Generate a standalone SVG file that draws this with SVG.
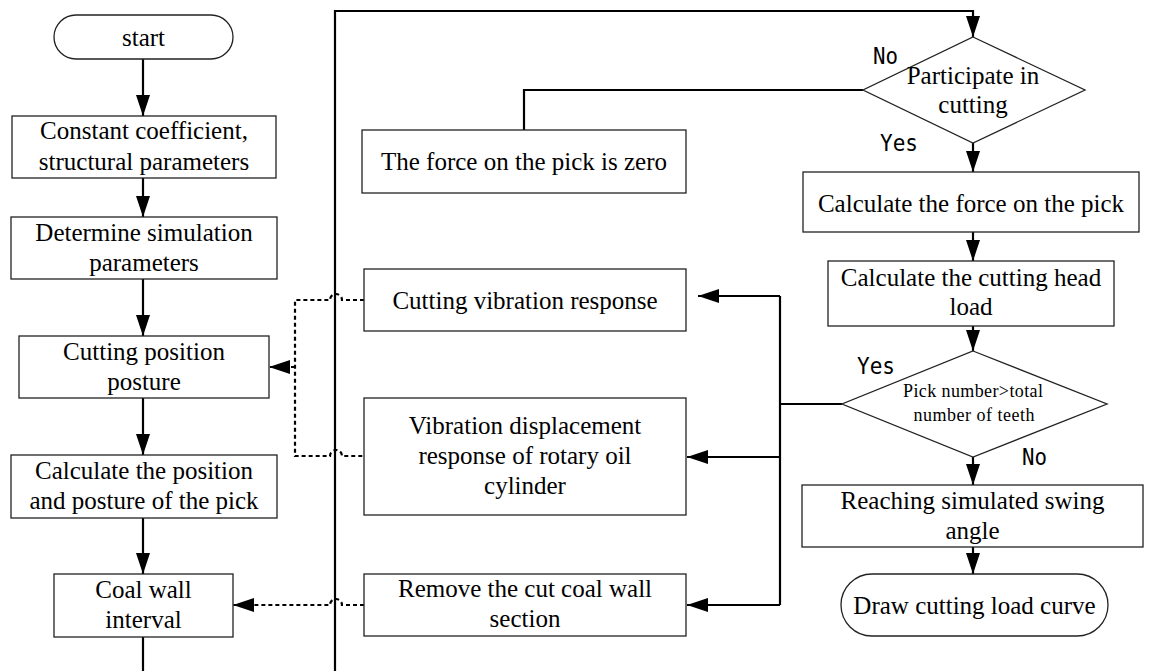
<svg xmlns="http://www.w3.org/2000/svg" width="1150" height="671" viewBox="0 0 1150 671">
<style>
.box{fill:#fff;stroke:#222;stroke-width:1.3}
.t{font-family:"Liberation Serif","Times New Roman",serif;font-size:25px;fill:#000;text-anchor:middle}
.s{font-family:"Liberation Serif","Times New Roman",serif;font-size:18px;fill:#000;text-anchor:middle}
.lb{font-family:"DejaVu Sans Mono",monospace;font-size:23px;fill:#000}
.c{fill:none;stroke:#000;stroke-width:2.2}
.d{fill:none;stroke:#000;stroke-width:2.2;stroke-dasharray:4 3}
</style>
<defs>
<marker id="ah" markerWidth="21" markerHeight="14" refX="21" refY="7" orient="auto" markerUnits="userSpaceOnUse">
<path d="M0,0 L21,7 L0,14 z" fill="#000"/>
</marker>
</defs>
<rect width="1150" height="671" fill="#fff"/>
<g id="connectors">
<path class="c" d="M143,59 V116" marker-end="url(#ah)"/>
<path class="c" d="M143,178 V217" marker-end="url(#ah)"/>
<path class="c" d="M143,279 V336" marker-end="url(#ah)"/>
<path class="c" d="M143,398 V455" marker-end="url(#ah)"/>
<path class="c" d="M143,518 V574" marker-end="url(#ah)"/>
<path class="c" d="M143,637 V671"/>
<path class="c" d="M335,671 V11 H973 V37" marker-end="url(#ah)"/>
<path class="c" d="M863,90 H524 V130"/>
<path class="c" d="M973,143 V172" marker-end="url(#ah)"/>
<path class="c" d="M973,232 V261" marker-end="url(#ah)"/>
<path class="c" d="M973,326 V351" marker-end="url(#ah)"/>
<path class="c" d="M973,457 V485" marker-end="url(#ah)"/>
<path class="c" d="M973,547 V574" marker-end="url(#ah)"/>
<path class="c" d="M842,404 H780"/>
<path class="c" d="M780,296 V605"/>
<path class="c" d="M780,296 H698" marker-end="url(#ah)"/>
<path class="c" d="M780,457 H687" marker-end="url(#ah)"/>
<path class="c" d="M780,605 H687" marker-end="url(#ah)"/>
<path class="d" d="M364,300 H342 A6,6 0 0 0 330,300 H295 V456 H330 A6,6 0 0 1 342,456 H364"/>
<path class="d" d="M295,367 H269" marker-end="url(#ah)"/>
<path class="d" d="M364,605 H342 A6,6 0 0 0 330,605 H233" marker-end="url(#ah)"/>
</g>
<g id="start">
<rect class="box" x="54" y="15" width="179" height="44" rx="22"/>
<text class="t" x="143.5" y="46">start</text>
</g>
<g id="constant">
<rect class="box" x="12" y="116" width="264" height="62"/>
<text class="t" x="144" y="139">Constant coefficient,</text>
<text class="t" x="144" y="170">structural parameters</text>
</g>
<g id="determine">
<rect class="box" x="11" y="217" width="266" height="62"/>
<text class="t" x="144" y="241">Determine simulation</text>
<text class="t" x="144" y="271">parameters</text>
</g>
<g id="cutting-position">
<rect class="box" x="19" y="336" width="250" height="62"/>
<text class="t" x="144" y="360">Cutting position</text>
<text class="t" x="144" y="390">posture</text>
</g>
<g id="calc-position">
<rect class="box" x="11" y="455" width="266" height="63"/>
<text class="t" x="144" y="479">Calculate the position</text>
<text class="t" x="144" y="509">and posture of the pick</text>
</g>
<g id="coal-wall">
<rect class="box" x="54" y="574" width="179" height="63"/>
<text class="t" x="143.5" y="598">Coal wall</text>
<text class="t" x="143.5" y="628">interval</text>
</g>
<g id="force-zero">
<rect class="box" x="362" y="130" width="324" height="63"/>
<text class="t" x="524" y="170">The force on the pick is zero</text>
</g>
<g id="cutting-vibration">
<rect class="box" x="364" y="269" width="322" height="62"/>
<text class="t" x="525" y="309">Cutting vibration response</text>
</g>
<g id="vibration-displacement">
<rect class="box" x="364" y="398" width="322" height="117"/>
<text class="t" x="525" y="434">Vibration displacement</text>
<text class="t" x="525" y="464">response of rotary oil</text>
<text class="t" x="525" y="494">cylinder</text>
</g>
<g id="remove">
<rect class="box" x="364" y="574" width="322" height="62"/>
<text class="t" x="525" y="597">Remove the cut coal wall</text>
<text class="t" x="525" y="627">section</text>
</g>
<g id="participate">
<polygon class="box" points="973,37 1085,90 973,143 863,90"/>
<text class="t" x="973" y="84">Participate in</text>
<text class="t" x="973" y="113">cutting</text>
<text class="lb" x="873" y="64" textLength="25" lengthAdjust="spacingAndGlyphs">No</text>
<text class="lb" x="880" y="151" textLength="38" lengthAdjust="spacingAndGlyphs">Yes</text>
</g>
<g id="calc-force">
<rect class="box" x="803" y="172" width="336" height="60"/>
<text class="t" x="971" y="212">Calculate the force on the pick</text>
</g>
<g id="cutting-head">
<rect class="box" x="828" y="261" width="286" height="65"/>
<text class="t" x="971" y="286">Calculate the cutting head</text>
<text class="t" x="971" y="315">load</text>
</g>
<g id="pick-number">
<polygon class="box" points="973,351 1107,404 973,457 842,404"/>
<text class="s" x="973" y="397" textLength="140" lengthAdjust="spacing">Pick number&gt;total</text>
<text class="s" x="974" y="421" textLength="121" lengthAdjust="spacing">number of teeth</text>
<text class="lb" x="857" y="374" textLength="38" lengthAdjust="spacingAndGlyphs">Yes</text>
<text class="lb" x="1022" y="465" textLength="25" lengthAdjust="spacingAndGlyphs">No</text>
</g>
<g id="reaching">
<rect class="box" x="802" y="485" width="341" height="62"/>
<text class="t" x="972.5" y="509">Reaching simulated swing</text>
<text class="t" x="972.5" y="539">angle</text>
</g>
<g id="draw-curve">
<rect class="box" x="841" y="574" width="267" height="62" rx="31"/>
<text class="t" x="974.5" y="614">Draw cutting load curve</text>
</g>
</svg>
